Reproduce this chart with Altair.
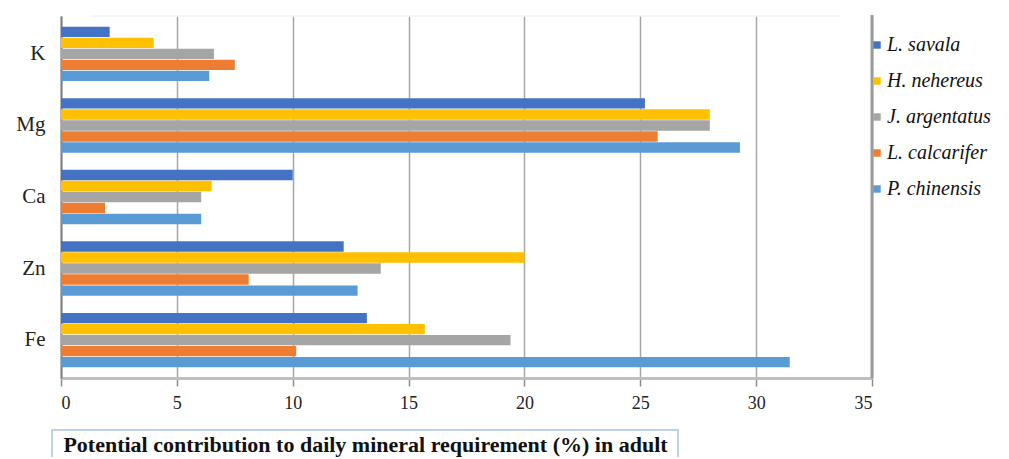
import altair as alt
import pandas as pd

minerals = ["K", "Mg", "Ca", "Zn", "Fe"]
species = ["L. savala", "H. nehereus", "J. argentatus", "L. calcarifer", "P. chinensis"]
colors = ["#4472C4", "#FFC000", "#A5A5A5", "#ED7D31", "#5B9BD5"]

savala = [2.1, 25.2, 10.0, 12.2, 13.2]
nehereus = [4.0, 28.0, 6.5, 20.0, 15.7]
argentatus = [6.6, 28.0, 6.05, 13.8, 19.4]
calcarifer = [7.5, 25.75, 1.9, 8.1, 10.15]
chinensis = [6.4, 29.3, 6.05, 12.8, 31.45]

x_ticks = [0, 5, 10, 15, 20, 25, 30, 35]
x_title = "Potential contribution to daily mineral requirement (%) in adult"

series = [savala, nehereus, argentatus, calcarifer, chinensis]
rows = []
for sp, vals in zip(species, series):
    for m, v in zip(minerals, vals):
        rows.append({"mineral": m, "species": sp, "value": v})
df = pd.DataFrame(rows)

serif = "Liberation Serif"

bars = alt.Chart(df).mark_bar(cornerRadius=0).encode(
    x=alt.X("value:Q",
            scale=alt.Scale(domain=[0, 35], nice=False),
            axis=alt.Axis(values=x_ticks, title=x_title, grid=True,
                          gridColor="#A6A6A6", gridWidth=1.5,
                          domainColor="#BFBFBF", domainWidth=3,
                          tickColor="#8C8C8C", tickSize=8, tickWidth=1.5,
                          labelFont=serif, labelFontSize=18, labelColor="#222222",
                          labelPadding=8,
                          titleFont=serif, titleFontSize=22, titleFontWeight="bold",
                          titleColor="#111111", titleX=304, titleY=73,
                          titleAlign="center", titleBaseline="alphabetic")),
    y=alt.Y("mineral:N", sort=minerals,
            scale=alt.Scale(paddingInner=0.24, paddingOuter=0.15),
            axis=alt.Axis(title=None, ticks=False, labelFont=serif, labelFontSize=21,
                          labelColor="#222222", labelPadding=16,
                          domainColor="#808080", domainWidth=2, grid=False)),
    yOffset=alt.YOffset("species:N", sort=species,
                        scale=alt.Scale(paddingInner=0.06)),
    color=alt.Color("species:N", sort=species,
                    scale=alt.Scale(domain=species, range=colors),
                    legend=alt.Legend(title=None, orient="none", legendX=806, legendY=19,
                                      symbolType="square", symbolSize=55,
                                      symbolStrokeWidth=0,
                                      labelFont=serif, labelFontStyle="italic",
                                      labelFontSize=20, labelColor="#111111",
                                      rowPadding=16, labelOffset=0)),
)

box = alt.Chart(alt.Data(values=[{}])).mark_rect(
    fill="transparent", stroke="#A9C4E8", strokeWidth=1.5
).encode(
    x=alt.value(-9), x2=alt.value(617), y=alt.value(414), y2=alt.value(448)
)

right_edge = alt.Chart(alt.Data(values=[{}])).mark_rule(
    color="#9A9A9A", strokeWidth=3
).encode(
    x=alt.value(811), y=alt.value(-1), y2=alt.value(362)
)

top_edge = alt.Chart(alt.Data(values=[{}])).mark_rule(
    color="#EEEEEE", strokeWidth=1
).encode(
    x=alt.value(30), x2=alt.value(780), y=alt.value(0)
)

chart = alt.layer(bars, top_edge, right_edge, box).properties(
    width=811, height=362,
    autosize=alt.AutoSizeParams(type="none"),
    padding={"left": 53, "top": 8, "right": 126, "bottom": 79},
).configure(background="white", font=serif).configure_view(stroke=None)

chart.save("out.html", embed_options={"renderer": "svg", "actions": False})
